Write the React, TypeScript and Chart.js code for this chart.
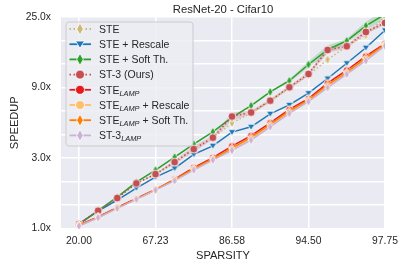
import React, { useEffect, useRef } from 'react';
import { Chart, registerables } from 'chart.js';
Chart.register(...registerables);

// ---------- data ----------
const sparsity = ['20.00','36.00','48.80','59.04','67.23','73.79','79.03','83.22','86.58','89.26','91.41','93.13','94.50','95.60','96.48','97.19','97.75'];
const xTickIndex = [0, 4, 8, 12, 16];
const xTickLabels = ['20.00', '67.23', '86.58', '94.50', '97.75'];
const yTickValues = [1, 1.43, 2.045, 2.924, 4.181, 5.979, 8.55, 12.23, 17.48, 25];
const yTickLabels = ['1.0x', '', '', '3.0x', '', '', '9.0x', '', '', '25.0x'];

const steVals = [1.07, 1.31, 1.59, 1.99, 2.27, 2.73, 3.33, 3.95, 4.99, 5.79, 6.95, 8.46, 10.31, 13.08, 16.02, 18.93, 25.0];
const steRescaleVals = [1.071, 1.305, 1.542, 1.851, 2.187, 2.497, 3.088, 3.52, 4.334, 4.698, 5.724, 6.563, 7.841, 9.803, 12.37, 15.66, 20.43];
const steSoftVals = [1.071, 1.315, 1.614, 2.027, 2.433, 2.964, 3.612, 4.354, 5.419, 6.485, 7.998, 9.481, 12.13, 15.23, 17.41, 21.87, 26.05];
const st3Vals = [1.071, 1.311, 1.59, 1.988, 2.289, 2.747, 3.348, 3.987, 5.502, 5.847, 6.996, 8.589, 10.51, 15.14, 16.02, 19.91, 22.82];
const lampVals = [1.055, 1.191, 1.376, 1.578, 1.809, 2.122, 2.527, 2.942, 3.504, 4.11, 4.993, 6.12, 7.212, 9.128, 11.12, 13.76, 16.69];
const lampRescaleVals = [1.045, 1.18, 1.365, 1.565, 1.8, 2.09, 2.46, 2.86, 3.33, 3.9, 4.78, 5.85, 6.97, 8.65, 10.6, 13.1, 16.3];
const lampSoftVals = [1.05, 1.185, 1.37, 1.57, 1.805, 2.1, 2.49, 2.89, 3.4, 4.0, 4.88, 5.98, 7.08, 8.9, 10.8, 13.4, 16.5];
const st3LampVals = [1.039, 1.178, 1.359, 1.559, 1.795, 2.074, 2.433, 2.832, 3.282, 3.838, 4.698, 5.759, 6.89, 8.524, 10.47, 12.85, 16.14];

const st3BandLo = [1.062, 1.30, 1.58, 1.97, 2.27, 2.66, 3.20, 3.87, 5.18, 5.67, 6.84, 8.40, 10.19, 14.46, 15.54, 19.31, 22.13];
const st3BandHi = [1.08, 1.32, 1.60, 2.00, 2.31, 2.83, 3.51, 4.11, 5.85, 6.03, 7.16, 8.79, 10.84, 15.85, 16.52, 20.53, 23.53];
const softBandLo = [1.062, 1.30, 1.60, 2.01, 2.41, 2.94, 3.58, 4.32, 5.38, 6.43, 7.88, 9.27, 11.59, 14.33, 16.89, 20.57, 24.1];
const softBandHi = [1.08, 1.33, 1.63, 2.04, 2.45, 2.99, 3.64, 4.39, 5.46, 6.54, 8.12, 9.70, 12.70, 16.19, 17.95, 23.25, 28.1];

const seriesNames = ['STE', 'STE + Rescale', 'STE + Soft Th.', 'ST-3 (Ours)', 'STE_LAMP', 'STE_LAMP + Rescale', 'STE_LAMP + Soft Th.', 'ST-3_LAMP'];
const seriesValues = [steVals, steRescaleVals, steSoftVals, st3Vals, lampVals, lampRescaleVals, lampSoftVals, st3LampVals];

// ---------- styles ----------
const seriesColors = ['#ccb974', '#1f77b4', '#2ca02c', '#c44e52', '#e41a1c', '#fdbf6f', '#ff7f00', '#cab2d6'];
const seriesMarkers = ['dia', 'tri', 'dia', 'circle', 'circle', 'circle', 'dia', 'dia'];
const seriesDotted = [true, false, false, true, false, false, false, false];
const FONT = "'Liberation Sans', Arial, Helvetica, sans-serif";
const TEXT = '#262626';

function drawShape(ctx: CanvasRenderingContext2D, kind: string, cx: number, cy: number, s: number, color: string, edge: number) {
  ctx.beginPath();
  if (kind === 'circle') {
    ctx.arc(cx, cy, s, 0, Math.PI * 2);
  } else if (kind === 'dia') {
    ctx.moveTo(cx, cy - s);
    ctx.lineTo(cx + s * 0.55, cy);
    ctx.lineTo(cx, cy + s);
    ctx.lineTo(cx - s * 0.55, cy);
    ctx.closePath();
  } else {
    ctx.moveTo(cx - s, cy - s * 0.7);
    ctx.lineTo(cx + s, cy - s * 0.7);
    ctx.lineTo(cx, cy + s * 0.9);
    ctx.closePath();
  }
  ctx.fillStyle = color;
  ctx.fill();
  if (edge > 0) {
    ctx.strokeStyle = '#ffffff';
    ctx.lineWidth = edge;
    ctx.stroke();
  }
}

function markerCanvas(kind: string, color: string, s: number) {
  const c = document.createElement('canvas');
  const d = Math.ceil(2 * s + 4);
  c.width = d;
  c.height = d;
  const ctx = c.getContext('2d')!;
  drawShape(ctx, kind, d / 2, d / 2, s, color, 0.8);
  return c;
}

function plotMarkerSize(kind: string, idx: number) {
  if (kind === 'circle') return idx === 3 ? 4 : 3.5;
  if (kind === 'dia') return 4.8;
  return 3.8;
}

function legendMarkerSize(kind: string) {
  if (kind === 'circle') return 4.5;
  if (kind === 'dia') return 6;
  return 4.5;
}

const bgPlugin = {
  id: 'plotBg',
  beforeDraw(chart: any) {
    const { ctx, chartArea } = chart;
    ctx.save();
    ctx.fillStyle = '#eaeaf2';
    ctx.fillRect(chartArea.left, chartArea.top, chartArea.right - chartArea.left, chartArea.bottom - chartArea.top);
    ctx.restore();
  },
};

const legendPlugin = {
  id: 'customLegend',
  afterDraw(chart: any) {
    const { ctx, chartArea } = chart;
    const left = chartArea.left + 5;
    const top = chartArea.top + 5;
    const w = 127;
    const h = 124;
    ctx.save();
    ctx.beginPath();
    const r = 3;
    ctx.moveTo(left + r, top);
    ctx.lineTo(left + w - r, top);
    ctx.arcTo(left + w, top, left + w, top + r, r);
    ctx.lineTo(left + w, top + h - r);
    ctx.arcTo(left + w, top + h, left + w - r, top + h, r);
    ctx.lineTo(left + r, top + h);
    ctx.arcTo(left, top + h, left, top + h - r, r);
    ctx.lineTo(left, top + r);
    ctx.arcTo(left, top, left + r, top, r);
    ctx.closePath();
    ctx.fillStyle = 'rgba(236,236,243,0.85)';
    ctx.fill();
    ctx.strokeStyle = '#cccccc';
    ctx.lineWidth = 1;
    ctx.stroke();

    seriesNames.forEach((name, k) => {
      const y = top + 7 + 15.2 * k;
      const color = seriesColors[k];
      ctx.save();
      ctx.strokeStyle = color;
      ctx.lineWidth = 1.8;
      ctx.setLineDash(seriesDotted[k] ? [1.5, 2.5] : []);
      ctx.beginPath();
      ctx.moveTo(left + 3.5, y);
      ctx.lineTo(left + 25, y);
      ctx.stroke();
      ctx.restore();
      drawShape(ctx, seriesMarkers[k], left + 14, y, legendMarkerSize(seriesMarkers[k]), color, 0.8);

      // text with LAMP subscript
      const parts = name.split('_LAMP');
      let x = left + 33;
      const base = y + 3.8;
      ctx.fillStyle = TEXT;
      ctx.textBaseline = 'alphabetic';
      ctx.textAlign = 'left';
      ctx.font = `10.5px ${FONT}`;
      ctx.fillText(parts[0], x, base);
      x += ctx.measureText(parts[0]).width;
      if (parts.length > 1) {
        ctx.font = `italic 7.4px ${FONT}`;
        ctx.fillText('LAMP', x, base + 2.2);
        x += ctx.measureText('LAMP').width;
        ctx.font = `10.5px ${FONT}`;
        ctx.fillText(parts[1], x, base);
      }
    });
    ctx.restore();
  },
};

export default function App() {
  const ref = useRef<HTMLCanvasElement>(null);
  useEffect(() => {
    if (!ref.current) return;
    Chart.defaults.font.family = FONT;
    Chart.defaults.color = TEXT;

    const toPts = (arr: number[]) => arr.map((v, i) => ({ x: i, y: v }));
    const band = (lo: number[], hi: number[], color: string) => [
      { label: 'band-lo', data: toPts(lo), borderWidth: 0, borderColor: 'transparent', pointRadius: 0, fill: false, order: 20 },
      { label: 'band-hi', data: toPts(hi), borderWidth: 0, borderColor: 'transparent', pointRadius: 0, fill: '-1', backgroundColor: color, order: 20 },
    ];

    const lines = seriesNames.map((name, k) => {
      const kind = seriesMarkers[k];
      const img = markerCanvas(kind, seriesColors[k], plotMarkerSize(kind, k));
      return {
        label: name,
        data: toPts(seriesValues[k]),
        borderColor: seriesColors[k],
        backgroundColor: seriesColors[k],
        borderWidth: 1.5,
        borderDash: seriesDotted[k] ? [1.5, 2.2] : [],
        pointStyle: img,
        pointRadius: 4,
        fill: false,
        tension: 0,
        order: 10 - k,
      };
    });

    const chart = new Chart(ref.current, {
      type: 'line',
      data: {
        datasets: [
          ...band(softBandLo, softBandHi, 'rgba(44,160,44,0.22)'),
          ...band(st3BandLo, st3BandHi, 'rgba(196,78,82,0.22)'),
          ...lines,
        ] as any,
      },
      options: {
        animation: false,
        responsive: false,
        devicePixelRatio: 1,
        layout: { padding: { left: 0, right: 26, top: 0, bottom: 0 } },
        plugins: {
          legend: { display: false },
          tooltip: { enabled: false },
          title: {
            display: true,
            text: 'ResNet-20 - Cifar10',
            fullSize: false,
            color: TEXT,
            font: { size: 11.3, weight: 'normal', family: FONT },
            padding: { top: 3, bottom: 0.44 },
          },
        },
        scales: {
          x: {
            type: 'linear',
            min: -0.94,
            max: 16,
            afterBuildTicks: (s: any) => {
              s.ticks = xTickIndex.map((v) => ({ value: v }));
            },
            afterFit: (s: any) => {
              s.height = 45.5;
            },
            ticks: {
              autoSkip: false,
              maxRotation: 0,
              padding: 6,
              color: TEXT,
              font: { size: 10.3, family: FONT },
              callback: (v: any) => {
                const i = xTickIndex.indexOf(Number(v));
                return i >= 0 ? xTickLabels[i] : '';
              },
            },
            grid: { color: '#ffffff', lineWidth: 1.5, drawTicks: false },
            border: { display: false },
            title: {
              display: true,
              text: 'SPARSITY',
              color: TEXT,
              font: { size: 11.1, family: FONT },
              padding: { top: 0, bottom: 11.3 },
            },
          },
          y: {
            type: 'logarithmic',
            min: 1,
            max: 25,
            afterBuildTicks: (s: any) => {
              s.ticks = yTickValues.map((v) => ({ value: v }));
            },
            afterFit: (s: any) => {
              s.width = 61;
            },
            ticks: {
              autoSkip: false,
              padding: 10,
              color: TEXT,
              font: { size: 10.3, family: FONT },
              callback: (_v: any, i: number) => yTickLabels[i] ?? '',
            },
            grid: { color: '#ffffff', lineWidth: 1.5, drawTicks: false },
            border: { display: false },
            title: {
              display: true,
              text: 'SPEEDUP',
              color: TEXT,
              font: { size: 11.1, family: FONT },
              padding: { top: 8.3, bottom: 0 },
            },
          },
        },
      },
      plugins: [bgPlugin, legendPlugin],
    } as any);
    return () => chart.destroy();
  }, []);

  return (
    <div style={{ position: 'absolute', left: 0, top: 0, width: 411, height: 274, background: '#ffffff' }}>
      <canvas ref={ref} width={411} height={274} style={{ width: 411, height: 274, display: 'block' }} />
    </div>
  );
}
